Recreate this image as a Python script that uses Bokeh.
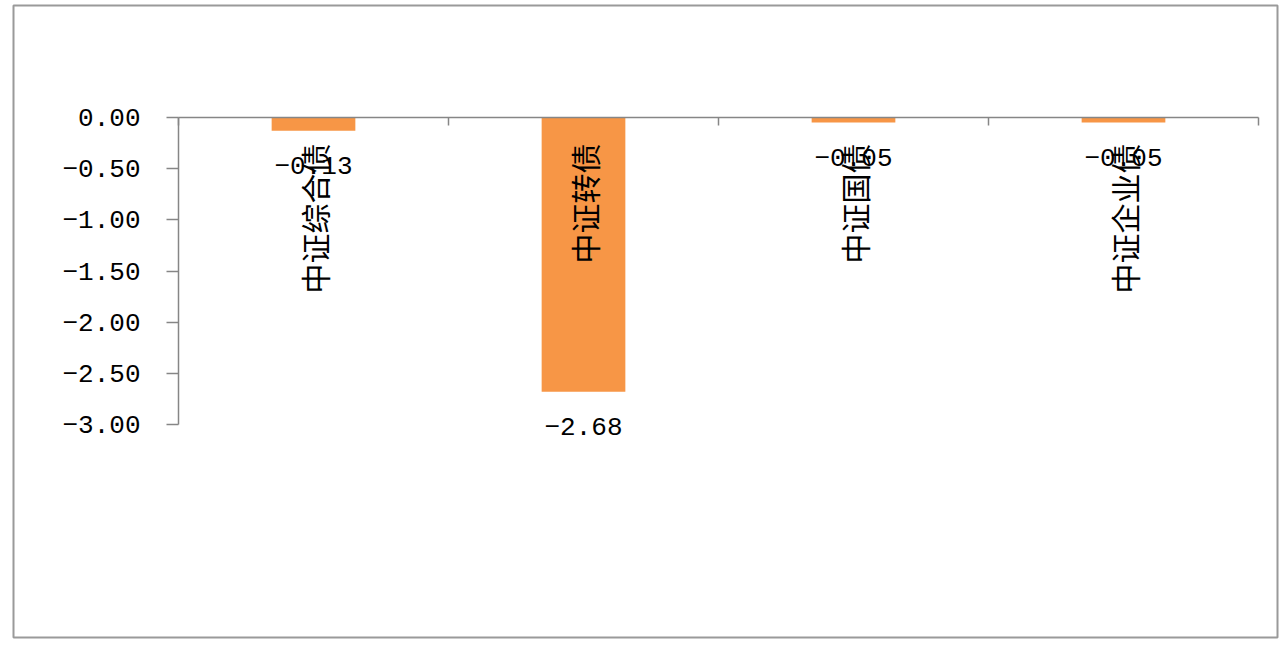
import math
from bokeh.plotting import figure
from bokeh.models import (Range1d, LinearAxis, FixedTicker,
                          CustomJSTickFormatter, ColumnDataSource)
from bokeh.core.properties import value
from bokeh.embed import file_html
from bokeh.resources import INLINE

categories = ["中证综合债", "中证转债", "中证国债", "中证企业债"]
values = [-0.13, -2.68, -0.05, -0.05]
y_ticks = [0.0, -0.5, -1.0, -1.5, -2.0, -2.5, -3.0]

n = len(categories)
labels = [("%.2f" % v).replace("-", "\u2212") for v in values]
src = ColumnDataSource(dict(pos=[i + 0.5 for i in range(n)], cat=categories,
                            val=values, lab=labels, base=[0.0] * n))

# layout (canvas pixels): outer chart box and inner plot area
W, H = 1280, 642
BOX_L, BOX_R, BOX_T, BOX_B = 13, 1277, 5, 637
AREA_L, AREA_R, AREA_T, AREA_B = 178, 1258, 117, 424
ymin, ymax = min(y_ticks), max(y_ticks)
kx = (AREA_R - AREA_L) / n
ky = (AREA_B - AREA_T) / (ymax - ymin)
x_range = Range1d(-(AREA_L - BOX_L) / kx, n + (BOX_R - AREA_R) / kx)
y_range = Range1d(ymin - (BOX_B - AREA_B) / ky, ymax + (AREA_T - BOX_T) / ky)

p = figure(width=W, height=H, x_range=x_range, y_range=y_range,
           output_backend="svg", toolbar_location=None,
           x_axis_location=None, y_axis_location=None,
           min_border_left=BOX_L, min_border_right=W - BOX_R,
           min_border_top=BOX_T, min_border_bottom=H - BOX_B)
p.outline_line_color = "#9a9a9a"
p.outline_line_width = 2
p.xgrid.visible = False
p.ygrid.visible = False
p.background_fill_color = "white"
p.border_fill_color = "white"

AX = "#868686"

xa = LinearAxis(fixed_location=0, bounds=(0, n),
                ticker=FixedTicker(ticks=list(range(n + 1))),
                formatter=CustomJSTickFormatter(code="return '';"),
                major_tick_in=8, major_tick_out=0,
                minor_tick_in=0, minor_tick_out=0,
                axis_line_color=AX, axis_line_width=1.5,
                major_tick_line_color=AX, major_tick_line_width=1.5)
p.add_layout(xa, "above")

ya = LinearAxis(fixed_location=0, bounds=(ymin, ymax),
                ticker=FixedTicker(ticks=y_ticks),
                formatter=CustomJSTickFormatter(
                    code="return tick.toFixed(2).replace('-', '\u2212');"),
                axis_line_color=AX, axis_line_width=1.5,
                major_tick_line_color=AX, major_tick_line_width=1.5,
                major_tick_in=0, major_tick_out=12,
                minor_tick_line_color=None,
                major_label_standoff=26,
                major_label_text_font="Liberation Mono",
                major_label_text_font_size="26px",
                major_label_text_color="#000000")
p.add_layout(ya, "left")

p.vbar(x="pos", top="val", bottom="base", width=0.31, source=src,
       fill_color="#F79646", line_color=None)

p.text(x="pos", y="val", text="lab", source=src, text_align="center",
       text_baseline="middle", y_offset=35, text_color="#000000",
       text_font=value("Liberation Mono"), text_font_size="26px")

p.text(x="pos", y="base", text="cat", source=src, angle=math.pi / 2,
       text_align="right", text_baseline="middle", y_offset=26,
       text_color="#000000", text_font=value("Noto Sans CJK SC"),
       text_font_size="30px")

open("out.html", "w").write(file_html(p, INLINE))
